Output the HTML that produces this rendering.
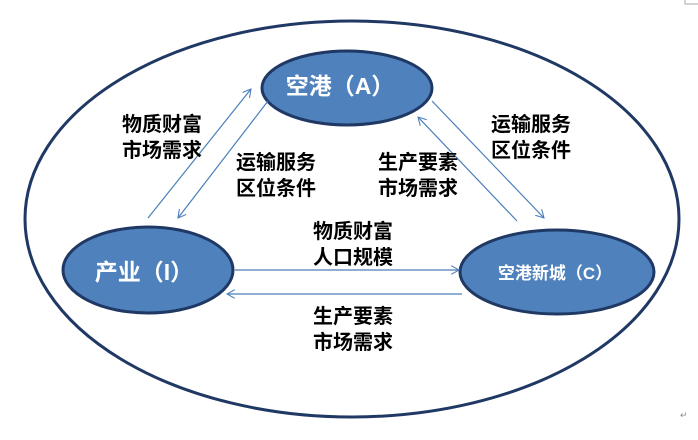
<!DOCTYPE html>
<html><head><meta charset="utf-8"><style>
body{margin:0;background:#fff}
svg text{font-family:"Liberation Sans","Noto Sans CJK SC",sans-serif}
.t{font-size:20px;font-weight:bold;fill:#000}
.w{fill:#fff;font-weight:bold;text-anchor:middle}
.r{font-size:9px;fill:#888}
</style></head><body>
<svg width="698" height="435" viewBox="0 0 698 435" xmlns="http://www.w3.org/2000/svg">
<defs><marker id="a" viewBox="0 0 10 10" refX="9" refY="5" markerWidth="9" markerHeight="9" orient="auto" markerUnits="userSpaceOnUse"><path d="M0,0 L9,5 L0,10" fill="none" stroke="#4a7ebb" stroke-width="1.2"/></marker></defs>
<ellipse cx="352" cy="219" rx="327" ry="198" fill="none" stroke="#1f3864" stroke-width="3"/>
<ellipse cx="347" cy="88" rx="85" ry="37" fill="#4f81bd" stroke="#1f3864" stroke-width="3"/>
<ellipse cx="148" cy="270" rx="85" ry="43" fill="#4f81bd" stroke="#1f3864" stroke-width="3"/>
<ellipse cx="557" cy="272" rx="97" ry="42" fill="#4f81bd" stroke="#1f3864" stroke-width="3"/>
<g stroke="#4a7ebb" stroke-width="1.2" marker-end="url(#a)">
<line x1="148" y1="218" x2="251" y2="89"/>
<line x1="268" y1="101" x2="178" y2="218"/>
<line x1="432" y1="101" x2="544" y2="218"/>
<line x1="517" y1="221" x2="418" y2="117"/>
<line x1="235" y1="270" x2="459" y2="270"/>
<line x1="462" y1="294" x2="227" y2="294"/>
</g>
<text class="w" x="340" y="94" font-size="23">空港（A）</text>
<text class="w" x="144" y="280" font-size="23">产业（I）</text>
<text class="w" x="555" y="279" font-size="17">空港新城（C）</text>
<text class="t" x="122" y="131">物质财富</text><text class="t" x="122" y="157">市场需求</text>
<text class="t" x="236" y="169">运输服务</text><text class="t" x="236" y="195">区位条件</text>
<text class="t" x="378" y="169">生产要素</text><text class="t" x="378" y="195">市场需求</text>
<text class="t" x="491" y="131">运输服务</text><text class="t" x="491" y="157">区位条件</text>
<text class="t" x="313" y="238">物质财富</text><text class="t" x="313" y="264">人口规模</text>
<text class="t" x="313" y="323">生产要素</text><text class="t" x="313" y="349">市场需求</text>
<text class="r" x="680" y="418">↵</text>
<path d="M685,0 V4 H698" fill="none" stroke="#aaa"/>
</svg>
</body></html>
